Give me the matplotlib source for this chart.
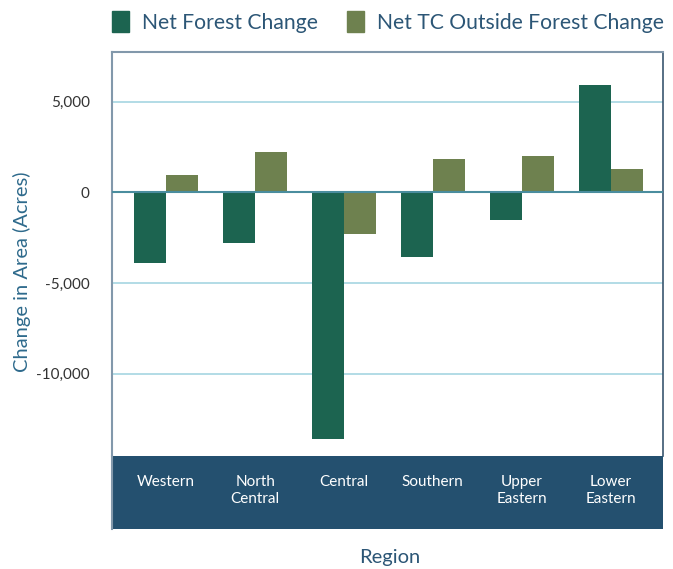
import matplotlib.pyplot as plt
import matplotlib.patches as mpatches
import numpy as np

regions = ["Western", "North\nCentral", "Central", "Southern", "Upper\nEastern", "Lower\nEastern"]
net_forest = [-3900, -2780, -13600, -3550, -1530, 5900]
net_tc_outside = [950, 2220, -2290, 1840, 2000, 1290]
series_names = ["Net Forest Change", "Net TC Outside Forest Change"]
yticks = [5000, 0, -5000, -10000]
ytick_labels = ["5,000", "0", "-5,000", "-10,000"]

forest_color = "#1c6450"
tc_color = "#6e814f"
band_color = "#24506f"
text_blue = "#2c5676"

plt.rcParams['font.family'] = ['Lato', 'DejaVu Sans']

fig = plt.figure(figsize=(6.73, 5.69), dpi=100)
W, H = 673, 569
# axes: x 112..663, y 52..456 (pixels from top)
ax = fig.add_axes([112 / W, 1 - 456 / H, (663 - 112) / W, (456 - 52) / H])

x = np.arange(len(regions))
bw = 0.36
ax.bar(x - bw / 2, net_forest, width=bw, color=forest_color, zorder=3)
ax.bar(x + bw / 2, net_tc_outside, width=bw, color=tc_color, zorder=3)

ax.set_xlim(-0.61, 5.59)
ax.set_ylim(-14550, 7740)
ax.set_yticks(yticks)
ax.set_yticklabels(ytick_labels, fontsize=11, color="#333333")
ax.tick_params(axis='y', length=0, pad=16)
ax.set_xticks([])
for t in yticks:
    if t == 0:
        ax.axhline(t, color="#4a8d9e", lw=1.5, zorder=4)
    else:
        ax.axhline(t, color="#a6d6e2", lw=1.2, zorder=1)

for side in ['left', 'top']:
    ax.spines[side].set_color("#8298ab")
    ax.spines[side].set_linewidth(1.5)
ax.spines['right'].set_color("#3a5670")
ax.spines['right'].set_linewidth(1.2)
ax.spines['bottom'].set_visible(False)

# dark category band under the axes
band = fig.add_axes([112 / W, 1 - 529 / H, (663 - 112) / W, (529 - 456) / H])
band.set_facecolor(band_color)
band.set_xlim(ax.get_xlim())
band.set_ylim(0, 1)
band.set_xticks([])
band.set_yticks([])
for s in band.spines.values():
    s.set_visible(False)
for i, r in enumerate(regions):
    band.text(i, 0.74, r, color="white", fontsize=11, ha='center', va='top', linespacing=1.3)

# left edge line continues down the band
fig.add_artist(plt.Line2D([112 / W, 112 / W], [1 - 529 / H, 1 - 456 / H], color="#8298ab", lw=1.5))

fig.text(22 / W, 1 - 272 / H, "Change in Area (Acres)", rotation=90, ha='center', va='center',
         fontsize=14.5, color="#2e6a8c")
fig.text(390 / W, 1 - 557 / H, "Region", ha='center', va='center', fontsize=14.5, color=text_blue)

handles = [mpatches.Patch(color=forest_color), mpatches.Patch(color=tc_color)]
fig.legend(handles, series_names, loc='center', bbox_to_anchor=(388 / W, 1 - 22 / H), ncol=2,
           frameon=False, fontsize=15.2, labelcolor=text_blue, handlelength=0.8, handleheight=1.1,
           handletextpad=0.6, columnspacing=1.4)

fig.savefig("out.png", dpi=100)
